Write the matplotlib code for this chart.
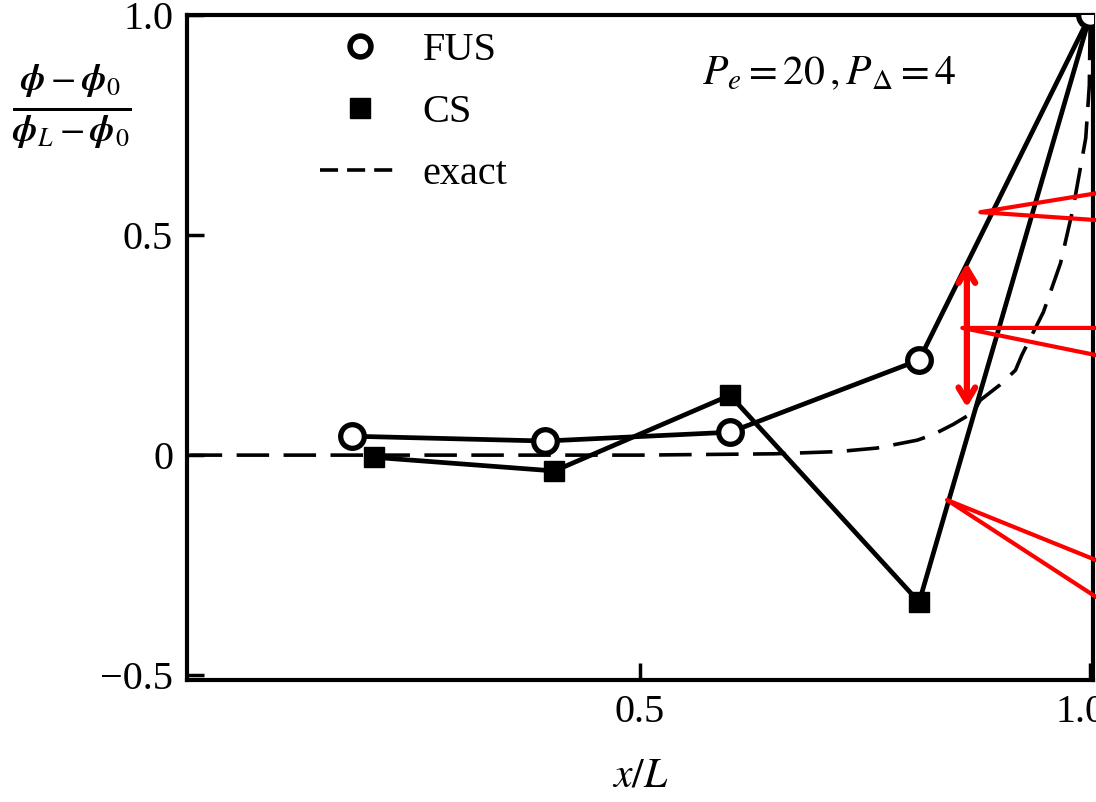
import matplotlib
matplotlib.use("Agg")
import matplotlib.pyplot as plt
from matplotlib.lines import Line2D
from matplotlib.transforms import ScaledTranslation

# ---- data ----
fus_x = [0.18, 0.395, 0.60, 0.81, 1.0]
fus_y = [0.043, 0.032, 0.052, 0.216, 1.0]

cs_x = [0.205, 0.405, 0.60, 0.81, 1.0]
cs_y = [-0.005, -0.036, 0.136, -0.334, 1.0]

exact_x = [0.0, 0.5, 0.65, 0.72, 0.763, 0.808, 0.826, 0.848, 0.87, 0.878, 0.90, 0.917,
           0.924, 0.948, 0.967, 0.981, 0.995, 0.999, 1.0]
exact_y = [0.0, 0.0, 0.003, 0.008, 0.016, 0.034, 0.047, 0.07, 0.097, 0.125, 0.16, 0.193,
           0.227, 0.325, 0.436, 0.561, 0.72, 0.84, 1.0]

xticks = [0.5, 1.0]
xtick_labels = ["0.5", "1.0"]
yticks = [-0.5, 0.0, 0.5, 1.0]
ytick_labels = ["\u22120.5", "0", "0.5", "1.0"]

# red annotation wedges (apex, edge1, edge2) and double arrow
wedge_apex = [(0.878, 0.552), (0.858, 0.289), (0.841, -0.102)]
wedge_edge1 = [(1.007, 0.595), (1.007, 0.289), (1.007, -0.239)]
wedge_edge2 = [(1.007, 0.534), (1.007, 0.227), (1.007, -0.323)]
arrow_x = 0.863
arrow_y = (0.443, 0.102)

plt.rcParams["font.family"] = ["Liberation Serif", "DejaVu Serif"]
plt.rcParams["mathtext.fontset"] = "stix"

fig = plt.figure(figsize=(10.96, 8.02), dpi=100)
ax = fig.add_axes([0.1706, 0.1521, 0.8266, 0.8292])

ax.plot(exact_x, exact_y, color="black", lw=2.6, dashes=(9, 4), zorder=2)
ax.plot(cs_x, cs_y, color="black", lw=3.4, marker="s", ms=14, mfc="black",
        mec="black", zorder=3)
ax.plot(fus_x, fus_y, color="black", lw=3.4, marker="o", ms=17, mfc="white",
        mec="black", mew=3.8, zorder=4)

ax.set_xlim(-0.003, 1.003)
ax.set_ylim(-0.511, 1.0)
ax.set_xticks(xticks)
ax.set_xticklabels(xtick_labels)
ax.set_yticks(yticks)
ax.set_yticklabels(ytick_labels)
ax.tick_params(direction="in", length=12, width=2.5, labelsize=29, pad=10)
for s in ax.spines.values():
    s.set_linewidth(3)

# nudge the right-most x tick label slightly left (as in the reference)
for lbl in ax.get_xticklabels():
    if lbl.get_text() == "1.0":
        lbl.set_transform(lbl.get_transform() + ScaledTranslation(-0.1, 0, fig.dpi_scale_trans))

h_fus = Line2D([], [], ls="none", marker="o", ms=15, mfc="white", mec="black", mew=4)
h_cs = Line2D([], [], ls="none", marker="s", ms=14, mfc="black", mec="black")
h_ex = Line2D([], [], color="black", lw=2.6, dashes=(5, 2.5))
leg = ax.legend([h_fus, h_cs, h_ex], ["FUS", "CS", "exact"],
                loc="upper left", bbox_to_anchor=(0.147, 0.975), frameon=False,
                fontsize=29, handlelength=2.0, labelspacing=0.62, handletextpad=0.55,
                borderpad=0, borderaxespad=0)

ax.text(0.71, 0.865, r"$P_e=20\,,P_\Delta=4$", fontsize=30, ha="center", va="center")

fig.text(0.066, 0.868, r"$\frac{\boldsymbol{\phi}-\boldsymbol{\phi}_0}{\boldsymbol{\phi}_L-\boldsymbol{\phi}_0}$",
         fontsize=38, ha="center", va="center")
fig.text(0.584, 0.032, r"$x/L$", fontsize=30, ha="center", va="center")

# red annotations
for a, e1, e2 in zip(wedge_apex, wedge_edge1, wedge_edge2):
    ax.plot([e1[0], a[0], e2[0]], [e1[1], a[1], e2[1]], color="red", lw=3,
            clip_on=False, zorder=6)
ax.annotate("", xy=(arrow_x, arrow_y[0]), xytext=(arrow_x, arrow_y[1]),
            arrowprops=dict(arrowstyle="<->,head_length=1.0,head_width=0.6",
                            color="red", lw=4.5), zorder=6)

fig.savefig("out.png", dpi=100)
